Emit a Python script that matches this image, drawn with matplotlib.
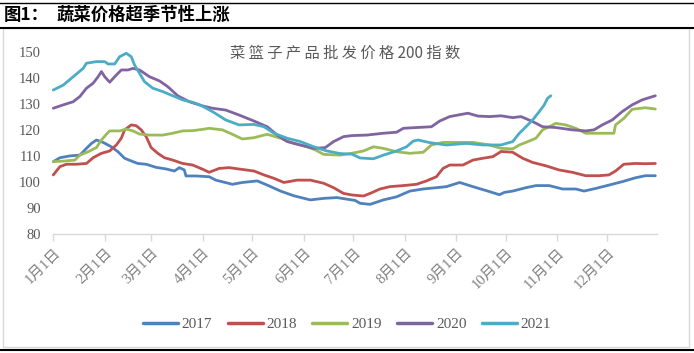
import matplotlib
matplotlib.use("Agg")
import matplotlib.pyplot as plt
from matplotlib.lines import Line2D
from matplotlib.patches import Rectangle
import matplotlib.transforms as mtransforms

W, H = 694, 353

fig_label = "图1："
fig_title = "蔬菜价格超季节性上涨"
chart_title = "菜 篮 子 产 品 批 发 价 格 200 指 数"

month_labels = ["1月1日", "2月1日", "3月1日", "4月1日", "5月1日", "6月1日",
                "7月1日", "8月1日", "9月1日", "10月1日", "11月1日", "12月1日"]
month_days = [0, 31, 59, 90, 120, 151, 181, 212, 243, 273, 304, 334]
y_ticks = [80, 90, 100, 110, 120, 130, 140, 150]

series_names = ["2017", "2018", "2019", "2020", "2021"]
series_colors = ["#4F81BD", "#C0504D", "#9BBB59", "#8064A2", "#4BACC6"]

days_2017 = [0, 4, 10, 16, 20, 23, 26, 30, 35, 39, 43, 48, 51, 56, 62, 68, 73, 76, 79, 80,
             86, 94, 98, 108, 114, 123, 129, 137, 145, 155, 163, 171, 177, 182, 185, 191,
             199, 207, 215, 223, 231, 237, 245, 253, 263, 269, 272, 277, 285, 291, 299,
             307, 315, 320, 327, 335, 343, 351, 357, 363]
vals_2017 = [107.9, 109.4, 110.1, 110.4, 113.0, 114.9, 116.2, 115.3, 113.6, 111.7, 109.2,
             107.9, 107.2, 106.9, 105.7, 105.1, 104.3, 105.6, 104.7, 102.4, 102.4, 102.1,
             100.8, 99.2, 99.9, 100.5, 98.9, 96.6, 94.8, 93.2, 93.8, 94.1, 93.5, 93.0, 91.9,
             91.5, 93.2, 94.4, 96.6, 97.4, 97.9, 98.3, 99.9, 98.3, 96.4, 95.2, 96.1, 96.6,
             97.9, 98.7, 98.7, 97.4, 97.4, 96.6, 97.6, 98.9, 100.2, 101.7, 102.5, 102.5]

days_2018 = [0, 4, 8, 14, 20, 24, 29, 34, 38, 41, 43, 47, 50, 53, 56, 59, 63, 67, 72, 78,
             84, 90, 94, 100, 106, 114, 121, 127, 133, 139, 147, 155, 163, 169, 175, 180,
             187, 191, 197, 203, 211, 219, 225, 231, 235, 239, 247, 253, 259, 265, 270,
             277, 283, 289, 297, 305, 313, 321, 329, 335, 339, 344, 351, 357, 363]
vals_2018 = [102.8, 106.0, 106.9, 106.9, 107.2, 109.4, 111.1, 112.0, 114.3, 116.9, 120.1,
             122.0, 121.7, 120.1, 117.5, 113.3, 111.1, 109.4, 108.5, 107.2, 106.6, 105.0,
             103.8, 105.3, 105.6, 104.9, 104.3, 102.8, 101.5, 99.9, 100.8, 100.8, 99.6,
             97.9, 95.7, 95.1, 94.7, 95.7, 97.4, 98.3, 98.7, 99.2, 100.5, 102.1, 105.3,
             106.6, 106.6, 108.5, 109.2, 109.8, 111.8, 111.5, 109.2, 107.6, 106.3, 104.7,
             103.8, 102.5, 102.5, 102.8, 104.3, 106.9, 107.2, 107.1, 107.2]

days_2019 = [0, 6, 13, 16, 21, 26, 29, 32, 34, 40, 44, 48, 52, 58, 66, 72, 78, 84, 90, 94,
             102, 108, 114, 121, 129, 137, 145, 153, 158, 163, 173, 180, 187, 193, 199,
             207, 215, 223, 228, 235, 245, 253, 263, 270, 277, 281, 285, 291, 295, 299,
             303, 309, 315, 321, 329, 338, 339, 344, 349, 357, 363]
vals_2019 = [107.9, 108.1, 108.5, 110.4, 111.7, 113.3, 116.2, 118.4, 119.7, 119.7, 120.4,
             119.7, 118.5, 118.1, 118.1, 118.8, 119.7, 119.8, 120.3, 120.7, 120.1, 118.4,
             116.6, 117.1, 118.4, 116.9, 114.9, 113.6, 112.4, 110.7, 110.4, 111.1, 112.0,
             113.6, 113.0, 111.7, 111.1, 111.5, 114.3, 115.3, 115.3, 115.3, 114.3, 113.0,
             112.8, 114.3, 115.3, 116.9, 120.1, 121.3, 122.6, 122.0, 120.7, 118.8, 118.8,
             118.8, 122.0, 124.5, 128.0, 128.6, 128.1]

days_2020 = [0, 6, 12, 16, 20, 24, 27, 29, 31, 34, 37, 41, 45, 48, 52, 58, 64, 69, 75, 82,
             90, 96, 104, 112, 121, 129, 135, 141, 149, 157, 164, 169, 175, 180, 189, 199,
             207, 211, 219, 228, 233, 239, 250, 256, 263, 270, 277, 282, 289, 295, 303,
             313, 321, 326, 331, 337, 343, 349, 355, 363]
vals_2020 = [128.4, 129.7, 130.9, 132.9, 136.1, 138.0, 140.5, 142.5, 140.5, 138.4, 140.5,
             143.1, 143.1, 143.7, 143.1, 140.5, 138.9, 136.7, 133.2, 130.9, 129.3, 128.4,
             127.7, 125.8, 123.5, 121.3, 118.1, 115.6, 114.3, 113.0, 113.3, 115.6, 117.5,
             117.9, 118.1, 118.8, 119.2, 120.7, 121.0, 121.3, 123.5, 125.2, 126.5, 125.4,
             125.2, 125.5, 124.8, 125.2, 123.3, 121.3, 121.0, 120.1, 119.7, 120.1, 122.0,
             123.9, 127.1, 129.7, 131.6, 133.2]

days_2021 = [0, 6, 12, 18, 20, 26, 31, 33, 37, 40, 44, 47, 49, 52, 55, 60, 66, 72, 78, 84,
             89, 96, 104, 112, 121, 127, 133, 141, 149, 157, 165, 173, 180, 185, 193, 199,
             207, 213, 217, 220, 227, 237, 249, 259, 270, 277, 281, 285, 289, 293, 296,
             298, 300]
vals_2021 = [135.4, 137.3, 140.5, 143.7, 145.7, 146.3, 146.3, 145.4, 145.4, 148.2, 149.5,
             148.2, 145.0, 141.8, 138.6, 136.1, 134.8, 133.2, 131.6, 130.7, 129.5, 127.1,
             123.9, 122.0, 122.2, 121.3, 118.8, 116.9, 115.6, 113.6, 112.0, 111.0, 110.8,
             109.3, 109.0, 110.4, 112.0, 113.6, 115.8, 116.2, 115.2, 114.3, 114.9, 114.3,
             114.3, 115.6, 118.8, 121.3, 123.9, 127.1, 129.7, 132.2, 133.2]

all_days = [days_2017, days_2018, days_2019, days_2020, days_2021]
all_vals = [vals_2017, vals_2018, vals_2019, vals_2020, vals_2021]

CJK = ["Noto Sans CJK SC", "DejaVu Sans"]
MIX = ["Liberation Serif", "Noto Sans CJK SC"]
GRAY = "#595959"

fig = plt.figure(figsize=(W / 100, H / 100), dpi=100)

def fx(x):
    return x / W

def fy(y):
    return 1 - y / H

# frame / decorations
fig.add_artist(Rectangle((fx(3), fy(347)), fx(689) - fx(3), fy(28) - fy(347),
                         transform=fig.transFigure, fill=False, edgecolor="#D9D9D9", lw=1.0))
fig.add_artist(Line2D([0, 1], [fy(2.5), fy(2.5)], transform=fig.transFigure, color="black", lw=1.0))
fig.add_artist(Line2D([0, 1], [fy(27.5), fy(27.5)], transform=fig.transFigure, color="black", lw=1.5))
fig.add_artist(Line2D([0, 1], [fy(350), fy(350)], transform=fig.transFigure, color="black", lw=1.5))

fig.text(fx(4), fy(15), fig_label, family=CJK, fontsize=12.5, fontweight="bold", va="center", ha="left")
fig.text(fx(57), fy(15), fig_title, family=CJK, fontsize=12.5, fontweight="bold", va="center", ha="left")

x0, x1 = 53.3, 657.0
yb, yt = 234.3, 52.0
ax = fig.add_axes([fx(x0), fy(yb), fx(x1) - fx(x0), fy(yt) - fy(yb)])
ax.set_xlim(0, 364)
ax.set_ylim(80, 150)

for d, v, c, n in zip(all_days, all_vals, series_colors, series_names):
    ax.plot(d, v, color=c, lw=2.0, label=n, clip_on=False, solid_joinstyle="round", solid_capstyle="round")

for s in ["top", "right", "left"]:
    ax.spines[s].set_visible(False)
ax.spines["bottom"].set_color("#D9D9D9")
ax.spines["bottom"].set_linewidth(1.0)

ax.set_yticks(y_ticks)
ax.set_yticklabels([str(t) for t in y_ticks], family="Liberation Serif", fontsize=10.5, color=GRAY)
ax.tick_params(axis="y", length=0, pad=9)

ax.set_xticks(month_days)
ax.set_xticklabels(month_labels, family=MIX, fontsize=10.5, color="#808080",
                   rotation=45, ha="right", va="center", rotation_mode="anchor")
ax.tick_params(axis="x", length=5, width=1.0, color="#D9D9D9", pad=4)
offset = mtransforms.ScaledTranslation(5 / 100, -4 / 100, fig.dpi_scale_trans)
for lbl in ax.get_xticklabels():
    lbl.set_transform(lbl.get_transform() + offset)

fig.text(fx(345), fy(53), chart_title, family=CJK, fontsize=11, color=GRAY, ha="center", va="center")

leg = fig.legend(loc="center", bbox_to_anchor=(fx(347), fy(324)), ncol=5, frameon=False,
                 prop={"family": "Liberation Serif", "size": 11}, handlelength=2.3,
                 handletextpad=0.25, columnspacing=1.0)
for t in leg.get_texts():
    t.set_color(GRAY)
for l in leg.get_lines():
    l.set_linewidth(2.5)

fig.savefig("out.png", dpi=100)
